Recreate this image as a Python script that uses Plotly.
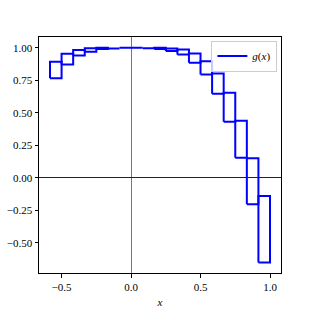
import plotly.graph_objects as go

# Interval boxes: x edges at k/12, y ranges
k_left = [-7, -6, -5, -4, -3, -2, -1, 0, 1, 2, 3, 4, 5, 6, 7, 8, 9, 10, 11]
step = 1 / 12
y_low = [0.765, 0.872, 0.941, 0.970, 0.990, 0.995, 0.999, 0.999, 0.997, 0.990,
         0.974, 0.948, 0.885, 0.795, 0.646, 0.431, 0.154, -0.203, -0.652]
y_high = [0.892, 0.954, 0.982, 0.997, 1.000, 1.000, 1.000, 1.000, 1.000, 1.000,
          0.995, 0.987, 0.956, 0.897, 0.802, 0.654, 0.438, 0.150, -0.140]

x_ticks = [-0.5, 0.0, 0.5, 1.0]
x_ticktext = ["\u22120.5", "0.0", "0.5", "1.0"]
y_ticks = [-0.5, -0.25, 0.0, 0.25, 0.5, 0.75, 1.0]
y_ticktext = ["\u22120.50", "\u22120.25", "0.00", "0.25", "0.50", "0.75", "1.00"]

xs, ys = [], []
for k, lo, hi in zip(k_left, y_low, y_high):
    a = k * step
    b = a + step
    xs += [a, b, b, a, a, None]
    ys += [lo, lo, hi, hi, lo, None]

fig = go.Figure()
fig.add_trace(go.Scatter(x=xs, y=ys, mode="lines",
                         line=dict(color="#0000ff", width=2),
                         name="<i>g</i>(<i>x</i>)", showlegend=True))

serif = "Liberation Serif, Times New Roman, serif"
font = dict(family=serif, size=11, color="black")
fig.update_layout(
    width=313, height=313,
    margin=dict(l=39, r=32, t=37, b=40, autoexpand=False),
    paper_bgcolor="white", plot_bgcolor="white",
    font=font,
    showlegend=True,
    legend=dict(x=0.985, y=0.985, xanchor="right", yanchor="top",
                bgcolor="rgba(255,255,255,0.8)", bordercolor="#cccccc",
                borderwidth=1, font=dict(family=serif, size=11),
                itemwidth=30, tracegroupgap=0),
    xaxis=dict(range=[-0.6625, 1.0792], tickvals=x_ticks, ticktext=x_ticktext,
               ticks="outside", ticklen=3.5, tickwidth=1, tickcolor="black",
               tickfont=dict(family=serif, size=11, color="black"),
               showline=True, linecolor="black", linewidth=1, mirror=True,
               showgrid=False, zeroline=True, zerolinecolor="#777777",
               zerolinewidth=1, automargin=False,
               title=dict(text="<i>x</i>", standoff=6,
                          font=dict(family=serif, size=11))),
    yaxis=dict(range=[-0.7326, 1.0826], tickvals=y_ticks, ticktext=y_ticktext,
               ticks="outside", ticklen=3.5, tickwidth=1, tickcolor="black",
               tickfont=dict(family=serif, size=11, color="black"),
               showline=True, linecolor="black", linewidth=1, mirror=True,
               showgrid=False, zeroline=True, zerolinecolor="#222222",
               zerolinewidth=1, automargin=False),
)

fig.write_html("out.html", config={"displayModeBar": False},
               post_script="document.body.style.margin='0px';document.body.style.padding='0px';")
